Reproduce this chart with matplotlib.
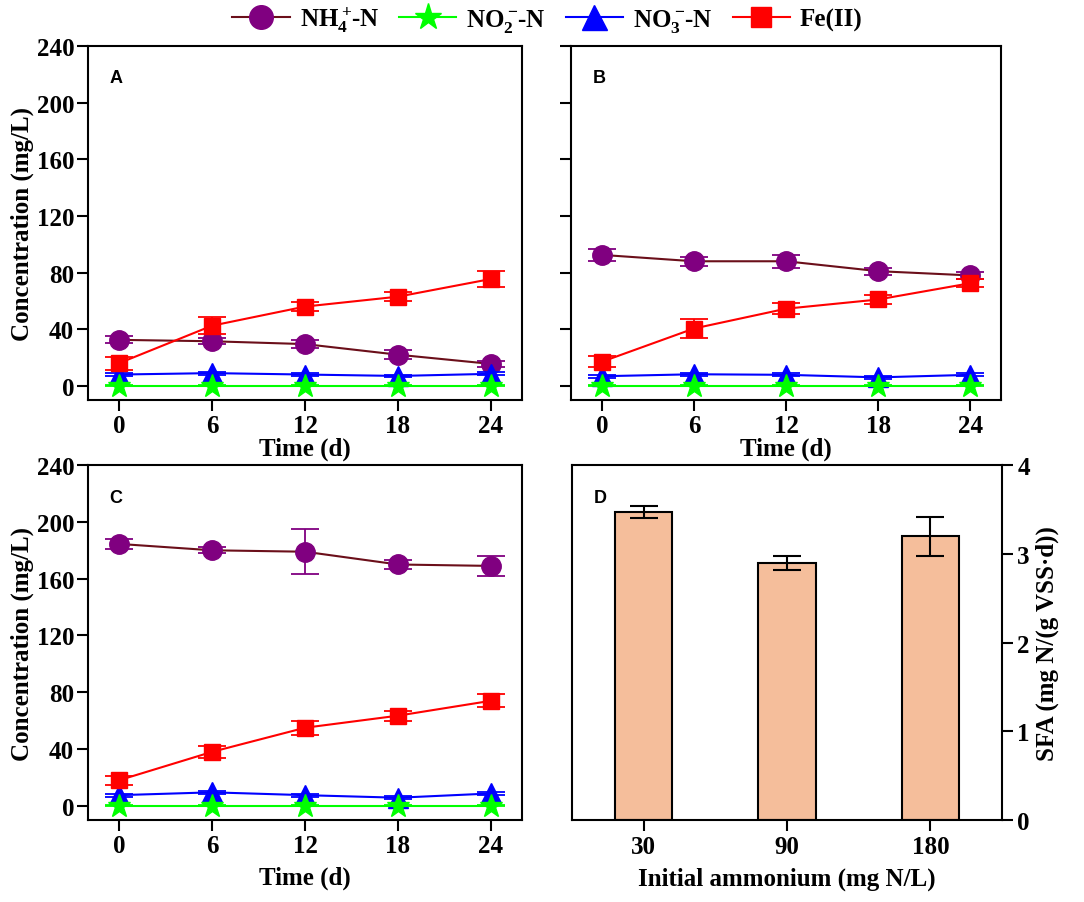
import numpy as np
import matplotlib
matplotlib.use('Agg')
import matplotlib.pyplot as plt
from matplotlib.lines import Line2D

plt.rcParams['font.family'] = 'Liberation Serif'
plt.rcParams['font.weight'] = 'bold'
plt.rcParams['axes.labelweight'] = 'bold'
plt.rcParams['axes.linewidth'] = 1.5
plt.rcParams['mathtext.fontset'] = 'custom'
plt.rcParams['mathtext.rm'] = 'Liberation Serif:bold'

days = [0, 6, 12, 18, 24]

# panel A (30 mg N/L)
nh4_a = [32.5, 31.5, 29.5, 22.0, 15.5]
nh4_a_err = [2.5, 2.0, 3.0, 3.0, 2.0]
no2_a = [0, 0, 0, 0, 0]
no3_a = [8.0, 9.0, 8.0, 7.0, 8.5]
no3_a_err = [1.0, 1.0, 1.0, 1.0, 1.0]
fe_a = [16.0, 42.5, 56.0, 63.0, 75.5]
fe_a_err = [4.7, 6.0, 3.0, 3.0, 5.5]

# panel B (90 mg N/L)
nh4_b = [92.5, 88.0, 88.0, 81.0, 78.0]
nh4_b_err = [4.0, 3.0, 4.5, 2.5, 2.5]
no2_b = [0, 0, 0, 0, 0]
no3_b = [6.8, 8.2, 7.8, 6.0, 7.8]
no3_b_err = [1.0, 1.0, 1.0, 1.0, 1.0]
fe_b = [17.0, 40.5, 54.5, 61.0, 72.5]
fe_b_err = [4.0, 7.0, 4.0, 3.5, 3.0]

# panel C (180 mg N/L)
nh4_c = [184.5, 180.0, 179.0, 170.0, 169.0]
nh4_c_err = [3.5, 2.0, 16.0, 3.0, 7.0]
no2_c = [0, 0, 0, 0, 0]
no3_c = [7.5, 9.5, 7.5, 5.7, 8.7]
no3_c_err = [1.0, 1.0, 1.0, 1.0, 1.0]
fe_c = [18.0, 38.0, 55.0, 63.5, 74.0]
fe_c_err = [3.0, 4.0, 5.0, 3.5, 4.5]

# panel D
initial_nh4 = ['30', '90', '180']
sfa = [3.47, 2.90, 3.20]
sfa_err = [0.07, 0.08, 0.22]

fig = plt.figure(figsize=(10.84, 9.03), dpi=100)
axA = fig.add_axes([0.0812, 0.5559, 0.4004, 0.392])
axB = fig.add_axes([0.5268, 0.5559, 0.3967, 0.392])
axC = fig.add_axes([0.0812, 0.0908, 0.4004, 0.393])
axD = fig.add_axes([0.5277, 0.0908, 0.3967, 0.393])

styles = {
    'nh4': dict(color='#6b0f1a', marker='o', ms=14, mfc='#800080', mec='#800080'),
    'no2': dict(color='#00ff00', marker='*', ms=17, mfc='#00ff00', mec='#00ff00'),
    'no3': dict(color='#0000ff', marker='^', ms=15, mfc='#0000ff', mec='#0000ff'),
    'fe': dict(color='#ff0000', marker='s', ms=12, mfc='#ff0000', mec='#ff0000'),
}
ecolors = {'nh4': '#800080', 'no2': '#00ff00', 'no3': '#0000ff', 'fe': '#ff0000'}


def series(ax, key, y, err, z):
    st = styles[key]
    ax.plot(days, y, lw=1.5, zorder=z, **st)
    ax.errorbar(days, y, yerr=err, fmt='none', ecolor=ecolors[key], capsize=10,
                elinewidth=1.3, capthick=1.3, zorder=z + 0.5)


def conc_panel(ax, nh4, nh4_e, no2, no3, no3_e, fe, fe_e, letter, show_y=True, pad=0):
    series(ax, 'nh4', nh4, nh4_e, 3)
    series(ax, 'no3', no3, no3_e, 4)
    series(ax, 'no2', no2, [0.4] * 5, 5)
    series(ax, 'fe', fe, fe_e, 6)
    ax.set_xlim(-2, 26)
    ax.set_ylim(-10, 240)
    ax.set_xticks(days)
    ax.set_yticks(np.arange(0, 241, 40))
    ax.tick_params(direction='out', length=8, width=1.5, labelsize=18, pad=2)
    ax.set_xlabel('Time (d)', fontsize=18, labelpad=pad)
    if show_y:
        ax.set_ylabel('Concentration (mg/L)', fontsize=18, labelpad=2)
    else:
        ax.set_yticklabels([])
    ax.text(0.065, 0.91, letter, transform=ax.transAxes, fontsize=13,
            family='Liberation Sans', weight='bold', ha='center', va='center')


conc_panel(axA, nh4_a, nh4_a_err, no2_a, no3_a, no3_a_err, fe_a, fe_a_err, 'A', pad=0)
conc_panel(axB, nh4_b, nh4_b_err, no2_b, no3_b, no3_b_err, fe_b, fe_b_err, 'B', show_y=False, pad=0)
conc_panel(axC, nh4_c, nh4_c_err, no2_c, no3_c, no3_c_err, fe_c, fe_c_err, 'C', pad=6)

pos = np.arange(len(initial_nh4))
axD.bar(pos, sfa, width=0.4, color='#f5be9b', edgecolor='black', linewidth=1.5,
        yerr=sfa_err, capsize=10, error_kw=dict(elinewidth=1.5, capthick=1.5))
axD.set_xlim(-0.5, 2.5)
axD.set_ylim(0, 4)
axD.set_xticks(pos)
axD.set_xticklabels(initial_nh4)
axD.yaxis.tick_right()
axD.yaxis.set_label_position('right')
axD.set_yticks([0, 1, 2, 3, 4])
axD.tick_params(direction='out', length=8, width=1.5, labelsize=18, pad=3)
axD.set_xlabel('Initial ammonium (mg N/L)', fontsize=18, labelpad=6)
axD.set_ylabel('SFA (mg N/(g VSS·d))', fontsize=18, labelpad=4)
axD.text(0.065, 0.91, 'D', transform=axD.transAxes, fontsize=13,
         family='Liberation Sans', weight='bold', ha='center', va='center')

handles = []
for key in ['nh4', 'no2', 'no3', 'fe']:
    st = dict(styles[key])
    st['ms'] = st['ms'] + 3
    handles.append(Line2D([], [], lw=1.5, **st))
labels = [r'NH$\mathregular{_4^+\!}$-N', r'NO$\mathregular{_2^-\!}$-N',
          r'NO$\mathregular{_3^-\!}$-N', 'Fe(II)']
fig.legend(handles, labels, loc='center', bbox_to_anchor=(0.505, 0.978), ncol=4,
           frameon=False, fontsize=18, handlelength=2.3, handletextpad=0.4,
           columnspacing=0.8)

fig.savefig('out.png', dpi=100)
